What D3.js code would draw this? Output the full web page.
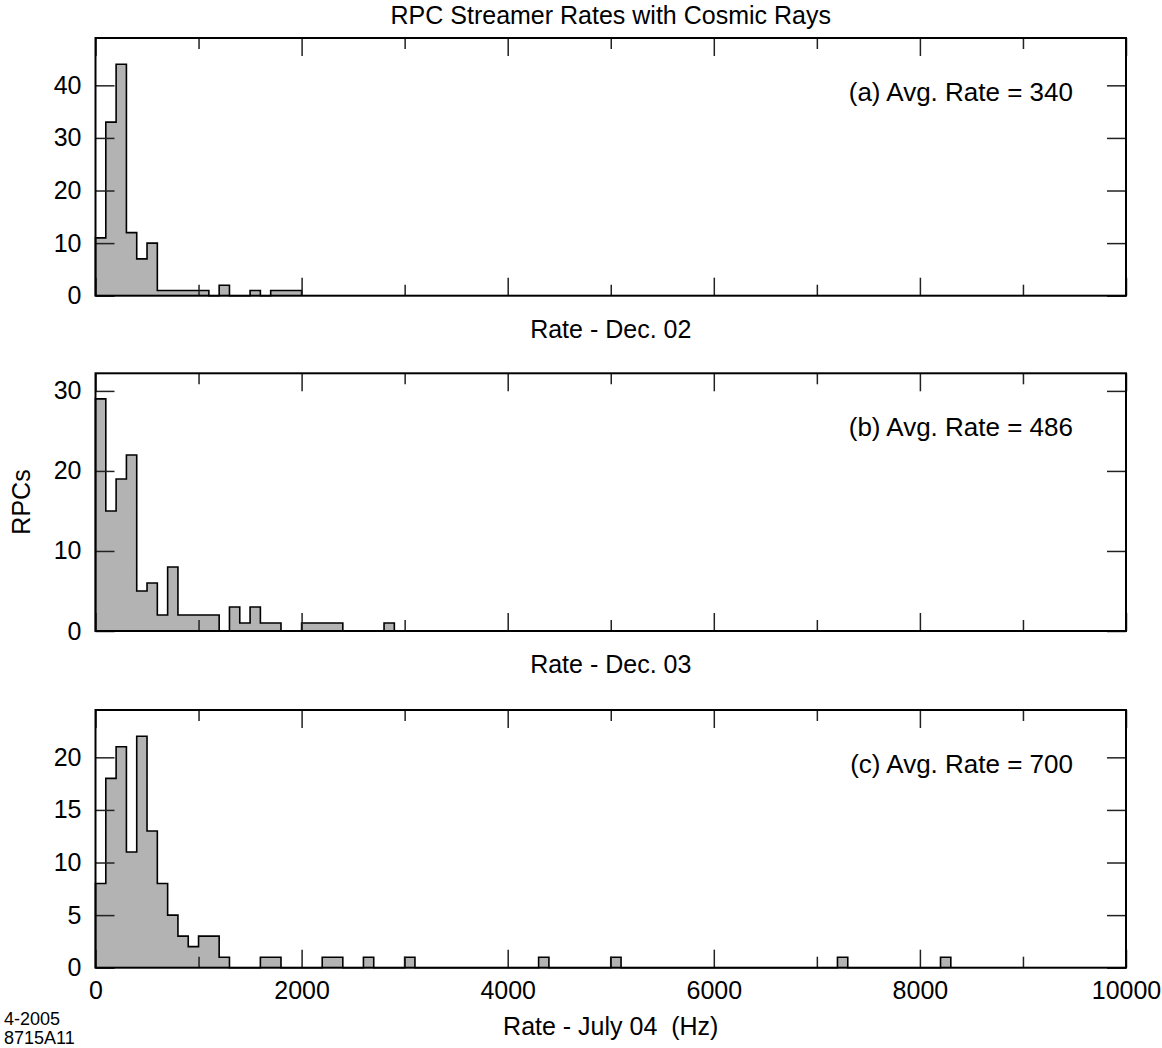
<!DOCTYPE html>
<meta charset="utf-8">
<style>
  body { margin: 0; background: #fff; }
  text { font-family: "Liberation Sans", Arial, sans-serif; fill: #000; }
</style>
<body>
<script src="https://cdn.jsdelivr.net/npm/d3@7"></script>
<script>

// counts of RPCs per 100 Hz bin, starting at 0 Hz (bins not listed are empty)
var countsDec02 = [11, 33, 44, 12, 7, 10, 1, 1, 1, 1, 1, 0, 2, 0, 0, 1, 0, 1, 1, 1];
var countsDec03 = [29, 15, 19, 22, 5, 6, 2, 8, 2, 2, 2, 2, 0, 3, 1, 3, 1, 1, 0, 0,
                   1, 1, 1, 1, 0, 0, 0, 0, 1];
var countsJul04 = [8, 18, 21, 11, 22, 13, 8, 5, 3, 2, 3, 3, 1, 0, 0, 0, 1, 1, 0, 0,
                   0, 0, 1, 1, 0, 0, 1, 0, 0, 0, 1, 0, 0, 0, 0, 0, 0, 0, 0, 0,
                   0, 0, 0, 1, 0, 0, 0, 0, 0, 0, 1, 0, 0, 0, 0, 0, 0, 0, 0, 0,
                   0, 0, 0, 0, 0, 0, 0, 0, 0, 0, 0, 0, 1, 0, 0, 0, 0, 0, 0, 0,
                   0, 0, 1];

var binWidth = 100;
var xMax = 10000;
var xMajorTicks = [0, 2000, 4000, 6000, 8000, 10000];
var xMinorTicks = [1000, 3000, 5000, 7000, 9000];

var panelNotes = ["(a) Avg. Rate = 340", "(b) Avg. Rate = 486", "(c) Avg. Rate = 700"];
var panelLabels = ["Rate - Dec. 02", "Rate - Dec. 03", "Rate - July 04  (Hz)"];
var yMaxes = [49, 32.2, 24.5];
var yTickSets = [[0, 10, 20, 30, 40], [0, 10, 20, 30], [0, 5, 10, 15, 20]];

var left = 95.5, right = 1126,
    panelTops = [38, 373.3, 710],
    panelH = 257.7;

var svg = d3.select("body").append("svg")
    .attr("width", 1162)
    .attr("height", 1048);

var x = d3.scaleLinear().domain([0, xMax]).range([left, right]);

// title
svg.append("text")
    .attr("x", (left + right) / 2)
    .attr("y", 24)
    .attr("text-anchor", "middle")
    .style("font-size", "25px")
    .text("RPC Streamer Rates with Cosmic Rays");

var allCounts = [countsDec02, countsDec03, countsJul04];

allCounts.forEach(function(counts, p) {
  var top = panelTops[p], bottom = top + panelH;
  var y = d3.scaleLinear().domain([0, yMaxes[p]]).range([bottom, top]);
  var g = svg.append("g");

  // bin points for the step shape
  var pts = [[0, 0]];
  counts.forEach(function(d, i) { pts.push([i * binWidth, d]); });
  pts.push([counts.length * binWidth, 0]);

  // filled histogram
  var area = d3.area()
      .x(function(d) { return x(d[0]); })
      .y0(bottom)
      .y1(function(d) { return y(d[1]); })
      .curve(d3.curveStepAfter);
  g.append("path")
      .attr("d", area(pts))
      .attr("fill", "#b3b3b3");

  // step outline
  var line = d3.line()
      .x(function(d) { return x(d[0]); })
      .y(function(d) { return y(d[1]); })
      .curve(d3.curveStepAfter);
  g.append("path")
      .attr("d", line(pts))
      .attr("fill", "none")
      .attr("stroke", "#000")
      .attr("stroke-width", 1.6);

  // inward ticks on all four sides
  function tickAxis(axis, tx, ty) {
    var a = g.append("g")
        .attr("transform", "translate(" + tx + "," + ty + ")")
        .call(axis);
    a.select(".domain").remove();
    a.selectAll("text").remove();
    a.selectAll("line").attr("stroke", "#222").attr("stroke-width", 1.5);
  }
  tickAxis(d3.axisTop(x).tickValues(xMajorTicks).tickSize(18), 0, bottom);
  tickAxis(d3.axisTop(x).tickValues(xMinorTicks).tickSize(11), 0, bottom);
  tickAxis(d3.axisBottom(x).tickValues(xMajorTicks).tickSize(18), 0, top);
  tickAxis(d3.axisBottom(x).tickValues(xMinorTicks).tickSize(11), 0, top);
  tickAxis(d3.axisRight(y).tickValues(yTickSets[p]).tickSize(19), left, 0);
  tickAxis(d3.axisLeft(y).tickValues(yTickSets[p]).tickSize(19), right, 0);

  // y tick labels
  var yl = g.append("g")
      .attr("transform", "translate(" + left + ",0)")
      .call(d3.axisLeft(y).tickValues(yTickSets[p]).tickSize(0).tickPadding(14));
  yl.select(".domain").remove();
  yl.selectAll("text").style("font-size", "25px")
      .style("font-family", "'Liberation Sans', Arial, sans-serif");

  // frame
  g.append("rect")
      .attr("x", left).attr("y", top)
      .attr("width", right - left).attr("height", panelH)
      .attr("fill", "none")
      .attr("stroke", "#000")
      .attr("stroke-width", 2);

  // annotation
  g.append("text")
      .attr("x", 1073)
      .attr("y", top + 63)
      .attr("text-anchor", "end")
      .style("font-size", "26px")
      .text(panelNotes[p]);

  // x label under each panel
  g.append("text")
      .attr("x", (left + right) / 2)
      .attr("y", p == 2 ? 1035 : bottom + 42)
      .attr("text-anchor", "middle")
      .style("font-size", "25px")
      .style("white-space", "pre")
      .text(panelLabels[p]);

  if (p == 2) {
    var xl = g.append("g")
        .attr("transform", "translate(0," + bottom + ")")
        .call(d3.axisBottom(x).tickValues(xMajorTicks).tickSize(0).tickPadding(14)
              .tickFormat(d3.format("d")));
    xl.select(".domain").remove();
    xl.selectAll("text").style("font-size", "25px")
        .style("font-family", "'Liberation Sans', Arial, sans-serif");
  }
});

// y axis title
svg.append("text")
    .attr("transform", "translate(30,502) rotate(-90)")
    .attr("text-anchor", "middle")
    .style("font-size", "25px")
    .text("RPCs");

// figure id
svg.append("text").attr("x", 4).attr("y", 1025).style("font-size", "18px").text("4-2005");
svg.append("text").attr("x", 4).attr("y", 1044).style("font-size", "18px").text("8715A11");

</script>
</body>
